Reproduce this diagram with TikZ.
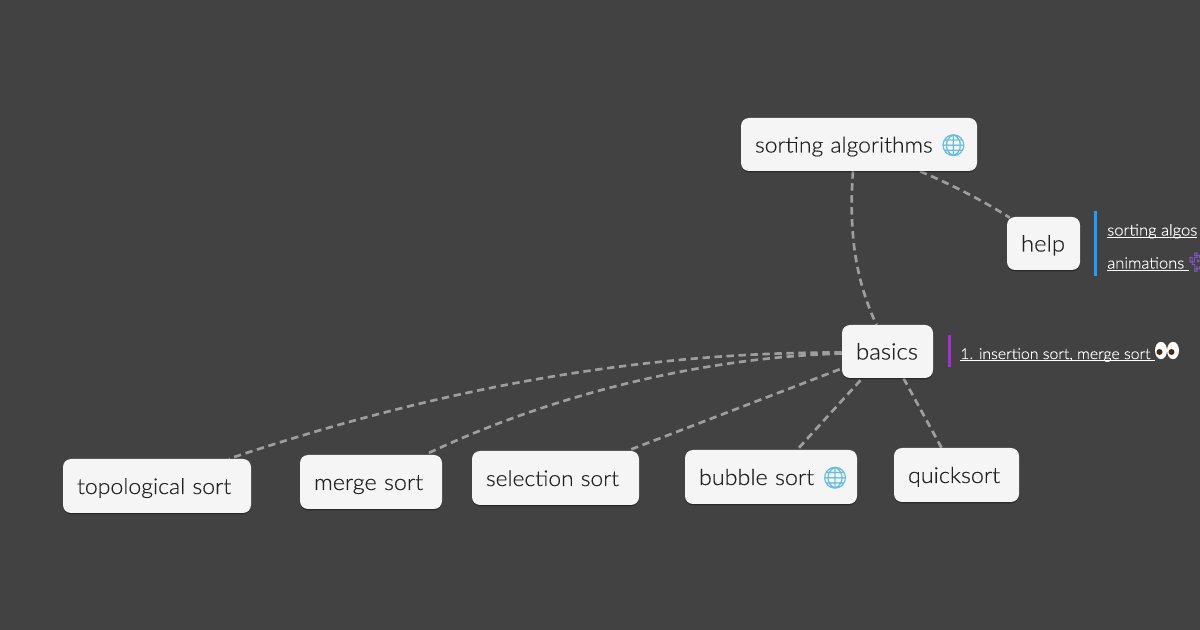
\documentclass[tikz,border=0pt]{standalone}
\usepackage{fontspec}
\setmainfont{Lato Light}[FakeStretch=1.06,FakeBold=0.35]
\newfontfamily\emojibold{Noto Emoji}[FakeBold=1.2]
\usetikzlibrary{calc,shadows,backgrounds,shapes.geometric}
\definecolor{bgc}{HTML}{424242}
\definecolor{nodec}{HTML}{F5F5F5}
\definecolor{inkc}{HTML}{222222}
\definecolor{edgec}{HTML}{9E9E9E}
\definecolor{globec}{HTML}{62BCE3}
\definecolor{barblue}{HTML}{1E9FFF}
\definecolor{barpurple}{HTML}{A52FD6}
\definecolor{alienc}{HTML}{7E57B8}
\definecolor{pupilc}{HTML}{4A2A10}
\newcommand{\linked}[1]{\setbox0\hbox{#1}\rlap{\color{white}\rule[-1.6pt]{\wd0}{0.55pt}}\box0}
\newcommand{\globe}{{\emojibold\color{globec}\fontsize{16}{16}\selectfont 🌐}}
\tikzset{
  x=0.75pt,y=-0.75pt,
  topic/.style 2 args={draw=none,fill=nodec,rounded corners=6pt,inner sep=0pt,
    minimum width=#1*0.75pt,minimum height=#2*0.75pt,text=inkc,
    text width=(#1-28)*0.75pt,align=left,
    text height=14pt,text depth=2pt,
    font=\fontsize{16.5}{18}\selectfont,
    drop shadow={shadow xshift=0pt,shadow yshift=-1pt,opacity=.35,fill=black}},
  link/.style={draw=edgec,line width=2pt,dash pattern=on 5.5pt off 3.5pt},
  note/.style={inner sep=0pt,anchor=base west,text=white,font=\fontsize{11.7}{13}\selectfont},
  barline/.style={line width=2pt},
  eyeball/.style={fill=white,draw=none,ellipse,minimum width=9pt,minimum height=13pt,inner sep=0pt},
  pupil/.style={fill=pupilc,draw=none,circle,minimum size=4.5pt,inner sep=0pt}
}
\begin{document}
\begin{tikzpicture}
\useasboundingbox (0,0) rectangle (1200,630);
\node[topic={236}{53},font=\fontsize{16.2}{18}\selectfont] (root) at (859,144.5) {\mbox{sorting algorithms \globe}};
\node[topic={73}{53},font=\fontsize{16.9}{18}\selectfont] (help) at (1043.5,243.5) {help};
\node[topic={91}{53},font=\fontsize{17}{18}\selectfont] (basics) at (887.5,351.5) {basics};
\node[topic={188}{54},font=\fontsize{16.3}{18}\selectfont] (topo) at (157,486) {\mbox{topological sort}};
\node[topic={142}{54}] (merge) at (371,482) {\mbox{merge sort}};
\node[topic={167}{54},font=\fontsize{16.1}{18}\selectfont] (sel) at (555.5,478) {\mbox{selection sort}};
\node[topic={172}{54}] (bubble) at (771,477) {\mbox{bubble sort \globe}};
\node[topic={125}{54}] (quick) at (956.5,475) {quicksort};
\begin{scope}[on background layer]
\fill[bgc] (0,0) rectangle (1200,630);
\draw[link] ($(root.south)+(-6,0)$) .. controls (848,240) and (858,285) .. ($(basics.north)+(-11,0)$);
\draw[link] ($(root.south)+(61,0)$) .. controls (950,184) and (982,200) .. ($(help.north west)+(3,1)$);
\draw[link] ($(basics.west)+(0,1)$) .. controls (620,352) and (420,395) .. ($(topo.north)+(72,0)$);
\draw[link] ($(basics.west)+(0,2)$) .. controls (690,358) and (540,400) .. ($(merge.north)+(54,0)$);
\draw[link] ($(basics.south west)+(-2,-9)$) -- ($(sel.north)+(72,0)$);
\draw[link] ($(basics.south)+(-27,2)$) -- ($(bubble.north)+(28,-2)$);
\draw[link] ($(basics.south)+(16,0)$) -- ($(quick.north)+(-15,0)$);
\end{scope}
\coordinate (ba) at ($(help.east)+(15.5,-32)$);
\coordinate (bb) at ($(help.east)+(15.5,32.5)$);
\draw[barline,barblue] (ba) -- (bb);
\coordinate (pa) at ($(basics.east)+(16,-16.5)$);
\coordinate (pb) at ($(basics.east)+(16,16)$);
\draw[barline,barpurple] (pa) -- (pb);
\node[note] (n1) at (1107,235.5) {\linked{sorting algos}};
\node[note] (n2) at (1107,268.5) {\linked{animations }{\emojibold\color{alienc}\fontsize{14}{14}\selectfont 👾}};
\node[note,font=\fontsize{11.2}{13}\selectfont] (n3) at (960,359) {\linked{1. insertion sort, merge sort\ }};
\node[eyeball] (eyeL) at (1161,350.5) {};
\node[eyeball] (eyeR) at (1173,350.5) {};
\node[pupil] (pupL) at (1159.5,352) {};
\node[pupil] (pupR) at (1171.5,352) {};
\end{tikzpicture}
\end{document}
